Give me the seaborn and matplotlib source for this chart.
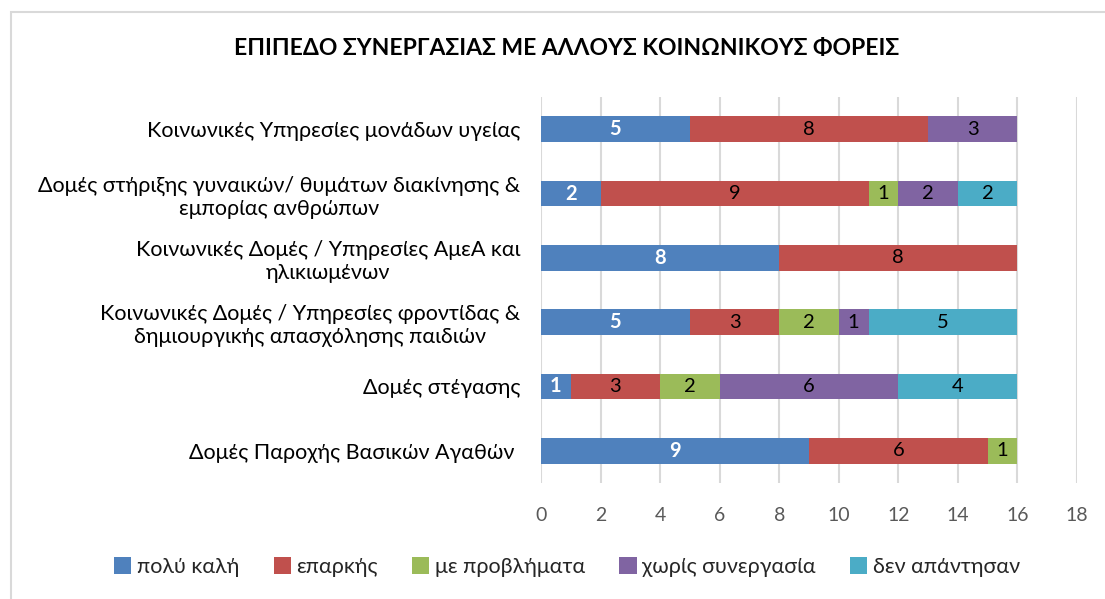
import matplotlib
matplotlib.use("Agg")
import matplotlib.pyplot as plt
from matplotlib.patches import Rectangle, Patch
import numpy as np
import pandas as pd
import seaborn as sns

categories = [
    "Κοινωνικές Υπηρεσίες μονάδων υγείας",
    "Δομές στήριξης γυναικών/ θυμάτων διακίνησης &\nεμπορίας ανθρώπων",
    "Κοινωνικές Δομές / Υπηρεσίες ΑμεΑ και\nηλικιωμένων",
    "Κοινωνικές Δομές / Υπηρεσίες φροντίδας &\nδημιουργικής απασχόλησης παιδιών",
    "Δομές στέγασης",
    "Δομές Παροχής Βασικών Αγαθών ",
]
series_names = ["πολύ καλή", "επαρκής", "με προβλήματα", "χωρίς συνεργασία", "δεν απάντησαν"]
poly_kali = [5, 2, 8, 5, 1, 9]
eparkis = [8, 9, 8, 3, 3, 6]
me_provlimata = [0, 1, 0, 2, 2, 1]
xoris_synergasia = [3, 2, 0, 1, 6, 0]
den_apantisan = [0, 2, 0, 5, 4, 0]
x_ticks = [0, 2, 4, 6, 8, 10, 12, 14, 16, 18]
title = "ΕΠΙΠΕΔΟ ΣΥΝΕΡΓΑΣΙΑΣ ΜΕ ΑΛΛΟΥΣ ΚΟΙΝΩΝΙΚΟΥΣ ΦΟΡΕΙΣ"

colors = ["#4F81BD", "#C0504D", "#9BBB59", "#8064A2", "#4BACC6"]
label_colors = ["white", "black", "black", "black", "black"]
label_weights = ["bold", "normal", "normal", "normal", "normal"]

sns.set_theme(style="white")
plt.rcParams["font.family"] = ["Lato", "DejaVu Sans"]

values = np.array([poly_kali, eparkis, me_provlimata, xoris_synergasia, den_apantisan], dtype=float)
cum = np.cumsum(values, axis=0)

fig = plt.figure(figsize=(11.05, 5.99), dpi=100)
# chart frame
fig.patches.append(Rectangle((11 / 1105, -0.1), 1.2, 1 - 12 / 599 + 0.1,
                             transform=fig.transFigure, fill=False,
                             edgecolor="#D9D9D9", linewidth=1.5, zorder=0))

ax = fig.add_axes([541 / 1105, 1 - 483 / 599, (1077 - 541) / 1105, (483 - 97) / 599])

# stacked bars: draw cumulative totals from the outermost segment inward
for i in range(len(series_names) - 1, -1, -1):
    df = pd.DataFrame({"cat": categories, "val": cum[i]})
    sns.barplot(data=df, x="val", y="cat", orient="h", color=colors[i],
                width=0.4, saturation=1, ax=ax, zorder=3, linewidth=0)

# segment labels
for i in range(len(series_names)):
    for j in range(len(categories)):
        v = values[i, j]
        if v > 0:
            center = cum[i, j] - v / 2
            ax.text(center, j, f"{int(v)}", ha="center", va="center",
                    color=label_colors[i], fontweight=label_weights[i],
                    fontsize=14.5, zorder=4)

ax.set_xlim(0, 18)
ax.set_ylim(len(categories) - 0.5, -0.5)
ax.set_xticks(x_ticks)
ax.set_xticklabels([str(t) for t in x_ticks], color="#595959", fontsize=14)
ax.tick_params(axis="x", length=0, pad=17)
ax.tick_params(axis="y", length=0, pad=15, labelsize=15.5, labelcolor="black")
for lab in ax.get_yticklabels():
    lab.set_horizontalalignment("right")
    lab.set_multialignment("center")
ax.set_xlabel("")
ax.set_ylabel("")
ax.grid(axis="x", color="#D9D9D9", linewidth=1.5, zorder=0)
ax.grid(axis="y", visible=False)
for s in ax.spines.values():
    s.set_visible(False)

fig.text(567 / 1105, 1 - 48 / 599, title, ha="center", va="center",
         fontsize=16.5, fontweight="bold", color="black")

handles = [Patch(facecolor=c, edgecolor="none") for c in colors]
fig.legend(handles, series_names, loc="center", bbox_to_anchor=(567 / 1105, 1 - 567 / 599),
           ncol=5, frameon=False, fontsize=15.5, handlelength=0.8, handleheight=0.8,
           handletextpad=0.25, columnspacing=1.6)

fig.savefig("out.png", dpi=100, facecolor="white")
